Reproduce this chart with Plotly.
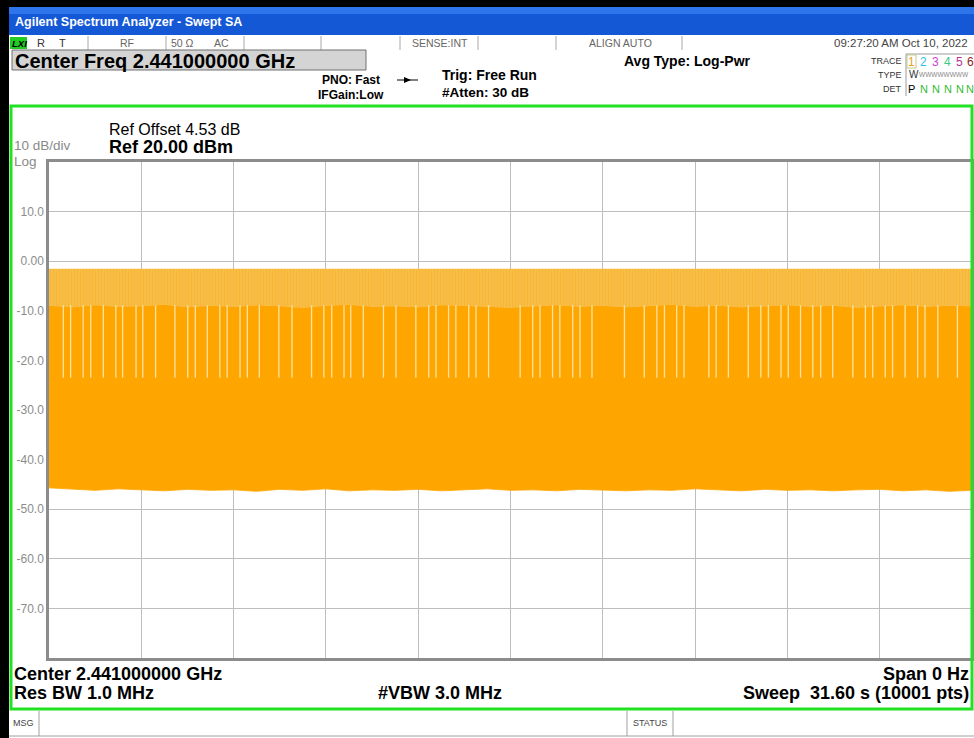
import plotly.graph_objects as go

W, H = 974, 738

# ---------------- data ----------------
sweep_time_s = 31.6
ref_level_dbm = 20.0
bottom_level_dbm = -80.0

# envelope sample times (s)
env_t = [0.00, 0.79, 1.58, 2.37, 3.16, 3.95, 4.74, 5.53, 6.32, 7.11, 7.90,
         8.69, 9.48, 10.27, 11.06, 11.85, 12.64, 13.43, 14.22, 15.01, 15.80,
         16.59, 17.38, 18.17, 18.96, 19.75, 20.54, 21.33, 22.12, 22.91, 23.70,
         24.49, 25.28, 26.07, 26.86, 27.65, 28.44, 29.23, 30.02, 30.81, 31.60]

# lower edge of the noise/burst body (dBm)
floor_bottom_dbm = [-45.7, -46.0, -46.2, -45.9, -46.1, -46.3, -46.0, -46.2, -46.1, -46.4,
                    -46.0, -46.2, -45.9, -46.3, -46.1, -46.2, -46.0, -46.3, -46.1, -45.9,
                    -46.2, -46.1, -46.3, -46.0, -46.2, -46.3, -46.1, -46.2, -45.9, -46.1,
                    -46.3, -46.0, -46.2, -46.1, -46.3, -46.1, -46.0, -46.3, -46.1, -46.4,
                    -46.2]

# upper edge of the dense burst body (dBm)
burst_top_dbm = [-9.0, -9.3, -8.9, -9.2, -9.1, -8.8, -9.3, -9.0, -9.2, -8.9,
                 -9.1, -9.4, -9.0, -8.8, -9.2, -9.1, -9.3, -8.9, -9.0, -9.2,
                 -9.4, -9.1, -8.9, -9.2, -9.0, -9.3, -9.1, -8.8, -9.2, -9.0,
                 -9.3, -9.1, -8.9, -9.2, -9.0, -9.4, -9.1, -8.9, -9.2, -9.0,
                 -9.1]

# peak level of the packet spikes (dBm)
peak_top_dbm = [-1.5, -1.5, -1.4, -1.5, -1.5, -1.5, -1.4, -1.5, -1.5, -1.5,
                -1.5, -1.4, -1.5, -1.5, -1.5, -1.5, -1.4, -1.5, -1.5, -1.5,
                -1.5, -1.5, -1.4, -1.5, -1.5, -1.5, -1.5, -1.4, -1.5, -1.5,
                -1.5, -1.5, -1.5, -1.4, -1.5, -1.5, -1.5, -1.5, -1.4, -1.5,
                -1.5]

# times of the idle gaps visible inside the burst body (s)
gap_t = [0.49, 0.74, 1.17, 1.43, 1.86, 2.29, 2.52, 2.98, 3.21, 3.65, 4.31, 4.75,
         5.01, 5.42, 5.85, 6.10, 6.54, 6.79, 7.20, 7.87, 8.32, 8.99, 9.41, 9.68,
         10.10, 10.33, 10.76, 11.45, 11.88, 12.56, 13.00, 13.25, 13.68, 13.93,
         14.37, 14.62, 15.05, 16.13, 16.56, 16.81, 17.24, 17.49, 17.93, 18.18,
         18.59, 19.70, 20.38, 20.81, 21.07, 21.49, 21.74, 22.59, 22.84, 23.26,
         23.94, 24.37, 24.63, 25.06, 25.31, 25.73, 26.15, 26.42, 26.83, 27.52,
         27.95, 28.20, 28.63, 28.88, 29.31, 29.74, 29.99, 30.43, 31.10]
gap_top_dbm = -8.9
gap_bottom_dbm = -23.5

ytick_vals = [10, 0, -10, -20, -30, -40, -50, -60, -70]
ytick_text = ["10.0", "0.00", "-10.0", "-20.0", "-30.0", "-40.0", "-50.0", "-60.0", "-70.0"]

trace_labels = ["1", "2", "3", "4", "5", "6"]
trace_colors = ["#E8A020", "#2EC4E0", "#D040D0", "#3CC880", "#B83090", "#8A1E1E"]
det_labels = ["P", "N", "N", "N", "N", "N"]

# ---------------- figure ----------------
FONT = "Liberation Sans"
ORANGE = "#FFA500"

fig = go.Figure()

# dense burst / noise body
fig.add_trace(go.Scatter(
    x=env_t + env_t[::-1],
    y=burst_top_dbm + floor_bottom_dbm[::-1],
    fill="toself", fillcolor=ORANGE, mode="lines",
    line=dict(width=0.8, color=ORANGE), hoverinfo="skip", showlegend=False))

# packet spikes region (dense vertical spikes)
fig.add_trace(go.Scatter(
    x=env_t + env_t[::-1],
    y=peak_top_dbm + burst_top_dbm[::-1],
    fill="toself", fillcolor="#F2C664", mode="lines",
    line=dict(width=0), hoverinfo="skip", showlegend=False,
    fillpattern=dict(shape="|", fgcolor=ORANGE, bgcolor="#F2C664",
                     size=3, solidity=0.7)))

# idle gaps
gx, gy = [], []
for t in gap_t:
    gx += [t, t, None]
    gy += [gap_top_dbm, gap_bottom_dbm, None]
fig.add_trace(go.Scatter(x=gx, y=gy, mode="lines",
                         line=dict(width=1.3, color="#FAE3A0"),
                         hoverinfo="skip", showlegend=False))


def X(p):
    return p / W


def Y(p):
    return 1 - p / H


shapes = []


def rect(x0, y0, x1, y1, fill=None, line=None, lw=0, layer="above"):
    shapes.append(dict(type="rect", xref="paper", yref="paper",
                       x0=X(x0), x1=X(x1), y0=Y(y1), y1=Y(y0),
                       fillcolor=fill if fill else "rgba(0,0,0,0)",
                       line=dict(color=line if line else "rgba(0,0,0,0)", width=lw),
                       layer=layer))


def line(x0, y0, x1, y1, color, lw=1):
    shapes.append(dict(type="line", xref="paper", yref="paper",
                       x0=X(x0), x1=X(x1), y0=Y(y0), y1=Y(y1),
                       line=dict(color=color, width=lw)))


anns = []


def ann(x, y, text, size, color="#000000", bold=False, anchor="left", family=FONT):
    if bold:
        text = "<b>" + text + "</b>"
    anns.append(dict(x=X(x), y=Y(y), xref="paper", yref="paper", text=text,
                     showarrow=False, xanchor=anchor, yanchor="middle",
                     font=dict(family=family, size=size, color=color),
                     borderpad=0))


# black outer edges
rect(0, 0, 9, H, fill="#000000", layer="below")
rect(0, 0, W, 7, fill="#000000", layer="below")
# title bar
rect(9, 7, W, 35, fill="#1458D6", layer="below")
rect(9, 7, W, 14, fill="#2E74EA", layer="below")
ann(14, 22, "Agilent Spectrum Analyzer - Swept SA", 12.5, "#FFFFFF", bold=True)

# status row
rect(9, 35, W, 50, fill="#FFFFFF", layer="below")
rect(10, 37, 27, 49, fill="#22CC22", layer="below")
ann(11, 43, "<i>LXI</i>", 9.5, "#000000", bold=True)
ann(36, 43, "R", 11, "#333333")
ann(58, 43, "T", 11, "#333333")
for sx in [88, 166, 244, 321, 400, 478, 556, 682]:
    line(sx, 36, sx, 50, "#A8A8A8", 1)
ann(127, 43, "RF", 10.5, "#666666", anchor="center")
ann(182, 43, "50 Ω", 10.5, "#666666", anchor="center")
ann(221, 43, "AC", 10.5, "#666666", anchor="center")
ann(440, 43, "SENSE:INT", 10.5, "#666666", anchor="center")
ann(620, 43, "ALIGN AUTO", 10.5, "#666666", anchor="center")
ann(969, 43, "09:27:20 AM Oct 10, 2022", 11.5, "#444444", anchor="right")

# header area
rect(12, 50, 366, 70, fill="#D4D4D4", line="#707070", lw=1)
ann(14, 61, "Center Freq 2.441000000 GHz", 20, "#000000", bold=True)
ann(351, 80, "PNO: Fast", 12, "#000000", bold=True, anchor="center")
ann(351, 95, "IFGain:Low", 12, "#000000", bold=True, anchor="center")
line(397, 80, 418, 80, "#000000", 1)
shapes.append(dict(type="path", xref="paper", yref="paper",
                   path=f"M {X(404)},{Y(77)} L {X(411)},{Y(80)} L {X(404)},{Y(83)} Z",
                   fillcolor="#000000", line=dict(width=0)))
ann(441, 75, "Trig: Free Run", 14, "#000000", bold=True)
ann(441, 92, "#Atten: 30 dB", 13.5, "#000000", bold=True)
ann(623, 61, "Avg Type: Log-Pwr", 14, "#000000", bold=True)

# trace block
ann(903, 61, "TRACE", 9, "#333333", anchor="right")
ann(903, 75, "TYPE", 9, "#333333", anchor="right")
ann(903, 89, "DET", 9, "#333333", anchor="right")
line(906, 54, 906, 96, "#9A9A9A", 1)
line(906, 54, 974, 54, "#9A9A9A", 1)
rect(907, 55, 916, 68, line="#C8C890", lw=1)
num_x = [911.5, 923.5, 935.5, 947.5, 959.5, 970.0]
for lab, col, nx in zip(trace_labels, trace_colors, num_x):
    ann(nx, 62, lab, 12, col, anchor="center")
ann(908, 75, "W", 10, "#333333")
ann(918, 75, "WWWWWWWW", 6.5, "#888888")
for lab, nx in zip(det_labels, num_x):
    ann(nx, 89, lab, 11, "#000000" if lab == "P" else "#33BB33", anchor="center")

# green measurement frame
rect(11, 106, 972, 709, line="#22E022", lw=3)

# plot-area text
ann(108, 129, "Ref Offset 4.53 dB", 16, "#000000")
ann(108, 147, "Ref 20.00 dBm", 18, "#000000", bold=True)
ann(13, 145, "10 dB/div", 13.5, "#8A8A8A")
ann(13, 161, "Log", 13.5, "#8A8A8A")

ann(13, 674, "Center 2.441000000 GHz", 18, "#000000", bold=True)
ann(13, 693, "Res BW 1.0 MHz", 18, "#000000", bold=True)
ann(440, 693, "#VBW 3.0 MHz", 18, "#000000", bold=True, anchor="center")
ann(970, 674, "Span 0 Hz", 18, "#000000", bold=True, anchor="right")
ann(970, 693, "Sweep  31.60 s (10001 pts)", 18, "#000000", bold=True, anchor="right")

# message row
line(9, 736, W, 736, "#A0A0A0", 1)
line(39, 711, 39, 736, "#A0A0A0", 1)
line(627, 711, 627, 736, "#A0A0A0", 1)
line(673, 711, 673, 736, "#A0A0A0", 1)
ann(12, 723, "MSG", 9, "#444444")
ann(650, 723, "STATUS", 9, "#444444", anchor="center")

fig.update_layout(
    width=W, height=H,
    margin=dict(l=0, r=0, t=0, b=0),
    paper_bgcolor="#FFFFFF", plot_bgcolor="#FFFFFF",
    shapes=shapes, annotations=anns, showlegend=False,
    xaxis=dict(domain=[X(49), X(972)], range=[0, sweep_time_s],
               tick0=0, dtick=sweep_time_s / 10, showticklabels=False,
               showgrid=True, gridcolor="#BDBDBD", gridwidth=1, zeroline=False,
               showline=True, linecolor="#8C8C8C", linewidth=2.5, mirror=True,
               ticks="", fixedrange=True),
    yaxis=dict(domain=[Y(658), Y(162)], range=[bottom_level_dbm, ref_level_dbm],
               tickvals=ytick_vals, ticktext=ytick_text,
               tickfont=dict(family=FONT, size=12, color="#8C8C8C"),
               showgrid=True, gridcolor="#BDBDBD", gridwidth=1, zeroline=False,
               showline=True, linecolor="#8C8C8C", linewidth=2.5, mirror=True,
               ticks="", fixedrange=True),
)

fig.write_html(
    "out.html",
    config={"displayModeBar": False},
    post_script="document.body.style.margin='0';document.body.style.padding='0';"
                "document.body.style.overflow='hidden';"
                "document.documentElement.style.overflow='hidden';",
)
